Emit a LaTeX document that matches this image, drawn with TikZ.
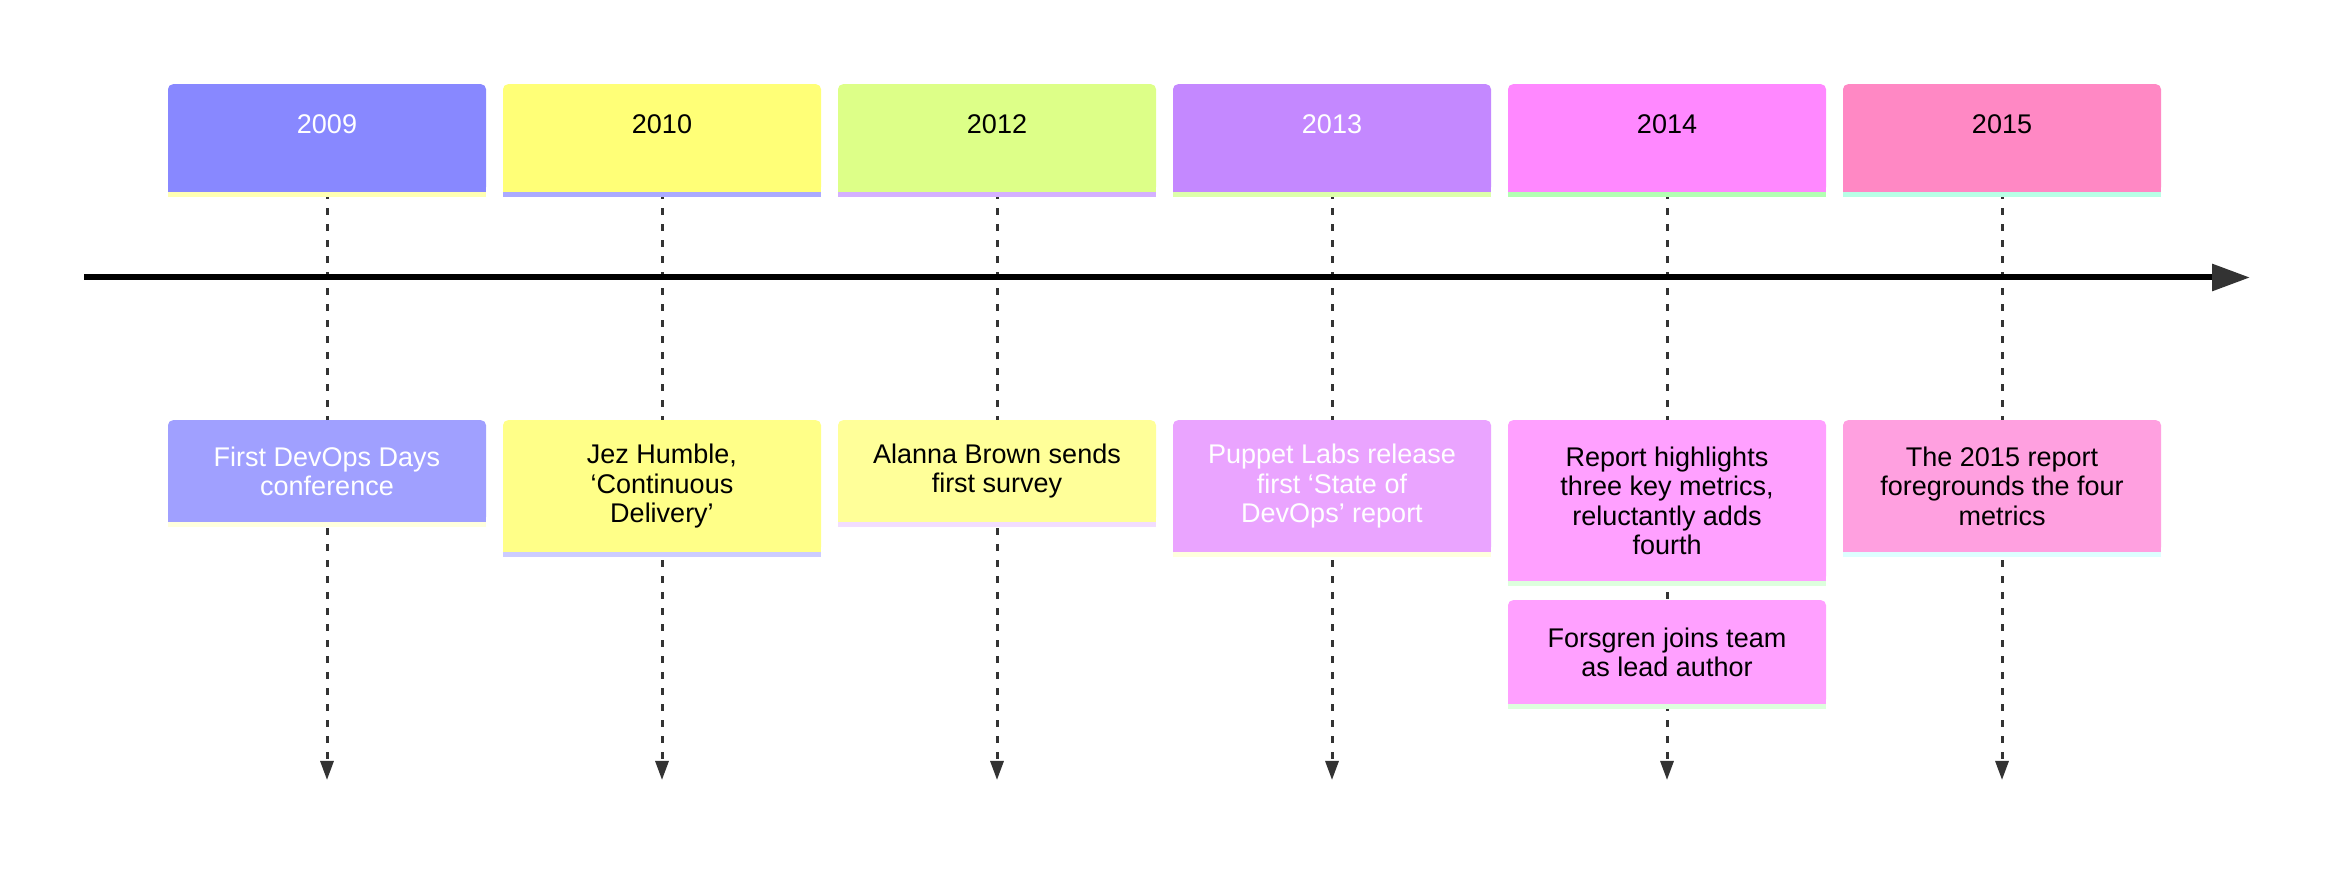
\documentclass[tikz,border=0pt]{standalone}
\usepackage{fontspec}
\setmainfont{Liberation Sans}
\usepackage{tikz}
\usetikzlibrary{arrows.meta,backgrounds}

\definecolor{tipgray}{HTML}{333333}
\definecolor{hd09}{HTML}{8888FF}\definecolor{hs09}{HTML}{FFFFB3}
\definecolor{hd10}{HTML}{FFFF77}\definecolor{hs10}{HTML}{AAAAFF}
\definecolor{hd12}{HTML}{DDFF88}\definecolor{hs12}{HTML}{D4B0FF}
\definecolor{hd13}{HTML}{C488FF}\definecolor{hs13}{HTML}{DDFFAA}
\definecolor{hd14}{HTML}{FF88FF}\definecolor{hs14}{HTML}{B3FFB3}
\definecolor{hd15}{HTML}{FF88C4}\definecolor{hs15}{HTML}{B8FFE6}
\definecolor{ev09}{HTML}{A0A0FF}\definecolor{es09}{HTML}{FFFFDD}
\definecolor{ev10}{HTML}{FFFF88}\definecolor{es10}{HTML}{CCCCFF}
\definecolor{ev12}{HTML}{FFFF99}\definecolor{es12}{HTML}{F2DDFF}
\definecolor{ev13}{HTML}{EAA4FF}\definecolor{es13}{HTML}{FFFFDD}
\definecolor{ev14}{HTML}{FFA0FF}\definecolor{es14}{HTML}{DDFFDD}
\definecolor{ev15}{HTML}{FFA0E0}\definecolor{es15}{HTML}{DDFFFF}

\begin{document}
\begin{tikzpicture}[x=1pt, y=1pt,
    card/.style={rounded corners=5pt, minimum width=318pt, text width=251pt,
      inner xsep=0pt, align=flush center, anchor=north,
      font=\fontsize{27}{29.5}\selectfont},
    yearbox/.style={card, minimum height=108pt, text height=20pt, text depth=30pt},
    eventbox/.style={card, minimum height=102pt},
    dashline/.style={line width=3pt, tipgray, dash pattern=on 7pt off 9pt,
      -{Triangle[length=19pt,width=13pt]}}
  ]
  \useasboundingbox (0,0) rectangle (2352,870);

  % years
  \node[yearbox, fill=hd09, text=white] (h09) at (327,786) {2009};
  \node[yearbox, fill=hd10] (h10) at (662,786) {2010};
  \node[yearbox, fill=hd12] (h12) at (997,786) {2012};
  \node[yearbox, fill=hd13, text=white] (h13) at (1332,786) {2013};
  \node[yearbox, fill=hd14] (h14) at (1667,786) {2014};
  \node[yearbox, fill=hd15] (h15) at (2002,786) {2015};

  % events
  \node[eventbox, fill=ev09, text=white] (e09) at (327,450) {First DevOps Days conference};
  \node[eventbox, fill=ev10, minimum height=132pt] (e10) at (662,450) {Jez Humble, ‘Continuous Delivery’};
  \node[eventbox, fill=ev12] (e12) at (997,450) {Alanna Brown sends first survey};
  \node[eventbox, fill=ev13, text=white, minimum height=132pt] (e13) at (1332,450) {Puppet Labs release first ‘State of DevOps’ report};
  \node[eventbox, fill=ev14, minimum height=161pt] (e14) at (1667,450) {Report highlights three key metrics, reluctantly adds fourth};
  \node[eventbox, fill=ev14, minimum height=104pt] (f14) at (1667,270) {Forsgren joins team as lead author};
  \node[eventbox, fill=ev15, minimum height=132pt] (e15) at (2002,450) {The 2015 report foregrounds the four metrics};

  % square bottom corners and coloured strips
  \foreach \n/\c/\s in {h09/hd09/hs09, h10/hd10/hs10, h12/hd12/hs12, h13/hd13/hs13,
      h14/hd14/hs14, h15/hd15/hs15, e09/ev09/es09, e10/ev10/es10, e12/ev12/es12,
      e13/ev13/es13, e14/ev14/es14, f14/ev14/es14, e15/ev15/es15} {
    \fill[\c] ([yshift=6pt]\n.south west) rectangle (\n.south east);
    \fill[\s] (\n.south west) rectangle ([yshift=-5pt]\n.south east);
  }

  % drop lines
  \coordinate (b09) at (327,90);
  \coordinate (b10) at (662,90);
  \coordinate (b12) at (997,90);
  \coordinate (b13) at (1332,90);
  \coordinate (b14) at (1667,90);
  \coordinate (b15) at (2002,90);
  \begin{scope}[on background layer]
    \foreach \y in {09,10,12,13,14,15}
      \draw[dashline] (h\y) -- (b\y);
  \end{scope}

  % time axis
  \coordinate (tstart) at (84,592.5);
  \coordinate (tend) at (2250,592.5);
  \draw[line width=6pt, -{Triangle[length=38pt,width=26pt,color=tipgray]}] (tstart) -- (tend);
\end{tikzpicture}
\end{document}
